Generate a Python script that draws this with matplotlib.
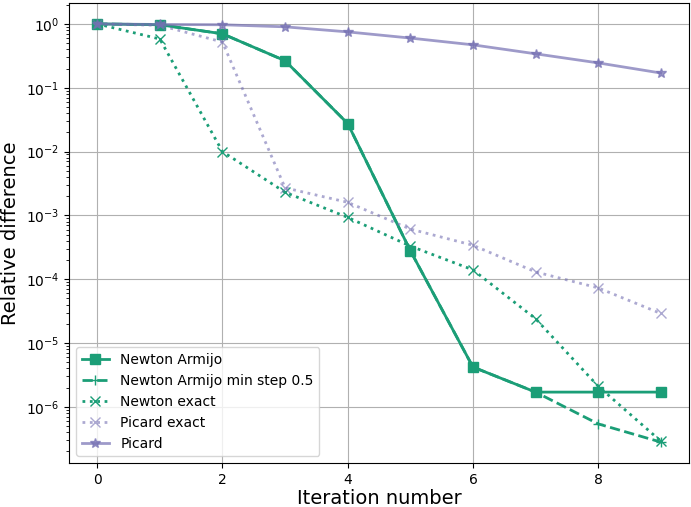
import numpy as np
import matplotlib
matplotlib.use("Agg")
import matplotlib.pyplot as plt

iterations = list(range(10))
newton_armijo = [1.0, 0.97, 0.70, 0.265, 0.0275, 2.8e-4, 4.2e-6, 1.7e-6, 1.7e-6, 1.7e-6]
newton_armijo_min = [1.0, 0.97, 0.70, 0.265, 0.0275, 2.8e-4, 4.2e-6, 1.7e-6, 5.4e-7, 2.8e-7]
newton_exact = [1.0, 0.58, 0.01, 2.3e-3, 9.3e-4, 3.3e-4, 1.4e-4, 2.4e-5, 2.1e-6, 2.9e-7]
picard_exact = [1.0, 0.95, 0.52, 2.7e-3, 1.6e-3, 6.1e-4, 3.4e-4, 1.3e-4, 7.3e-5, 2.9e-5]
picard = [1.0, 0.98, 0.97, 0.9, 0.75, 0.6, 0.47, 0.34, 0.245, 0.17]

green = "#1b9e77"
purple = "#7570b3"

fig, ax = plt.subplots(figsize=(6.91, 5.07), dpi=100)
ax.plot(iterations, newton_armijo, color=green, ls="-", marker="s", lw=2, ms=7, label="Newton Armijo")
ax.plot(iterations, newton_armijo_min, color=green, ls="--", marker="+", lw=2, ms=7, label="Newton Armijo min step 0.5")
ax.plot(iterations, newton_exact, color=green, ls=":", marker="x", lw=2, ms=7, label="Newton exact")
ax.plot(iterations, picard_exact, color=purple, ls=":", marker="x", lw=2, ms=7, alpha=0.6, label="Picard exact")
ax.plot(iterations, picard, color=purple, ls="-", marker="*", lw=2, ms=7, alpha=0.7, label="Picard")
ax.set_yscale("log")
ax.grid(True, color="#b0b0b0")
ax.set_xlabel("Iteration number", fontsize=14, labelpad=2)
ax.set_ylabel("Relative difference", fontsize=14)
ax.legend(loc="lower left")
fig.subplots_adjust(left=69/691, right=689/691, top=1-3/507, bottom=1-463/507)
fig.savefig("out.png")
